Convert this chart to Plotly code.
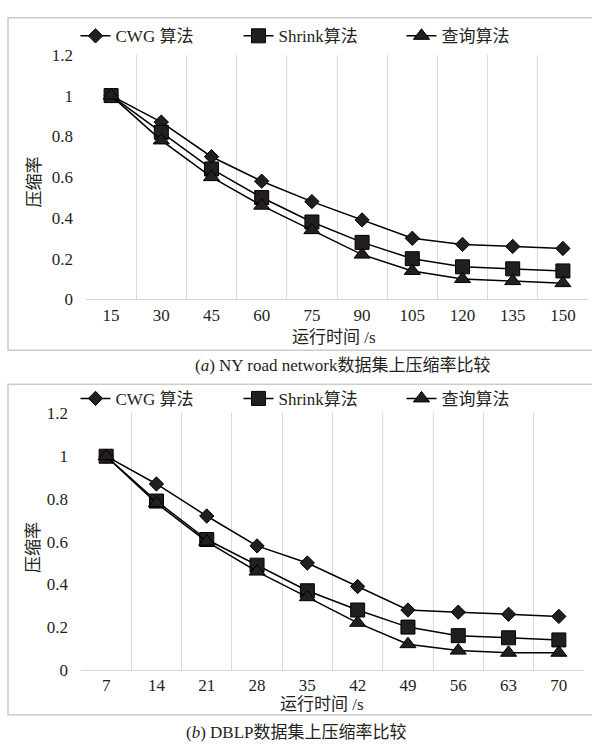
import plotly.graph_objects as go

# ---- data ----
time_ny = [15, 30, 45, 60, 75, 90, 105, 120, 135, 150]
cwg_ny = [1.0, 0.87, 0.70, 0.58, 0.48, 0.39, 0.30, 0.27, 0.26, 0.25]
shrink_ny = [1.0, 0.82, 0.64, 0.50, 0.38, 0.28, 0.20, 0.16, 0.15, 0.14]
query_ny = [1.0, 0.78, 0.60, 0.46, 0.34, 0.22, 0.14, 0.10, 0.09, 0.08]

time_dblp = [7, 14, 21, 28, 35, 42, 49, 56, 63, 70]
cwg_dblp = [1.0, 0.87, 0.72, 0.58, 0.50, 0.39, 0.28, 0.27, 0.26, 0.25]
shrink_dblp = [1.0, 0.79, 0.61, 0.49, 0.37, 0.28, 0.20, 0.16, 0.15, 0.14]
query_dblp = [1.0, 0.78, 0.60, 0.46, 0.34, 0.22, 0.12, 0.09, 0.08, 0.08]

series_names = ["CWG 算法", "Shrink算法", "查询算法"]
y_ticks = [0, 0.2, 0.4, 0.6, 0.8, 1, 1.2]
y_title = "压缩率"
x_title = "运行时间 /s"
caption_a = "(<i>a</i>) NY road network数据集上压缩率比较"
caption_b = "(<i>b</i>) DBLP数据集上压缩率比较"

W, H = 592, 750
FONT = "Liberation Serif, Noto Sans CJK SC, serif"
INK = "#231f20"
GRID = "#d9d9d9"
symbols = ["diamond", "square", "triangle-up"]
sizes = [11, 14, 14]


def px_x(v):
    return v / W


def px_y(v):
    return 1 - v / H


fig = go.Figure()

groups = [
    (time_ny, [cwg_ny, shrink_ny, query_ny], "x", "y", "legend"),
    (time_dblp, [cwg_dblp, shrink_dblp, query_dblp], "x2", "y2", "legend2"),
]
for xs, ys_list, xa, ya, lg in groups:
    for name, ys, sym, sz in zip(series_names, ys_list, symbols, sizes):
        fig.add_trace(go.Scatter(
            x=[str(v) for v in xs], y=ys, name=name, mode="lines+markers",
            xaxis=xa, yaxis=ya, legend=lg,
            line=dict(color="black", width=1.5),
            marker=dict(symbol=sym, size=sz, color=INK,
                        line=dict(color="black", width=1)),
        ))

xaxis_common = dict(
    type="category", tickson="boundaries", showgrid=True, gridcolor=GRID,
    gridwidth=1, showline=True, linecolor=GRID, linewidth=1, ticks="",
    range=[-0.5, 9.5], tickfont=dict(size=17, color=INK, family=FONT),
    ticklabelstandoff=0, fixedrange=True,
)
yaxis_common = dict(
    range=[0, 1.2], tickvals=y_ticks, showgrid=False, zeroline=False,
    showline=False, ticks="", tickfont=dict(size=17, color=INK, family=FONT),
    ticklabelstandoff=12, fixedrange=True,
)

legend_common = dict(
    orientation="h", x=px_x(320), xanchor="center", yanchor="middle",
    bgcolor="rgba(0,0,0,0)", font=dict(size=17, color=INK, family=FONT),
    itemwidth=30, entrywidth=118, tracegroupgap=0,
)

fig.update_layout(
    width=W, height=H,
    margin=dict(l=0, r=0, t=0, b=0),
    paper_bgcolor="white", plot_bgcolor="white",
    font=dict(family=FONT, size=17, color=INK),
    xaxis=dict(domain=[px_x(86), px_x(588)], anchor="y", **xaxis_common),
    yaxis=dict(domain=[px_y(298), px_y(47)], anchor="x", **yaxis_common),
    xaxis2=dict(domain=[px_x(81), px_x(584)], anchor="y2", **xaxis_common),
    yaxis2=dict(domain=[px_y(678), px_y(415)], anchor="x2", **yaxis_common),
    legend=dict(y=px_y(28), **legend_common),
    legend2=dict(y=px_y(400), **legend_common),
    showlegend=True,
)

# panel frames
for top, bottom in [(9, 350), (385, 724)]:
    fig.add_shape(type="rect", xref="paper", yref="paper",
                  x0=px_x(8), x1=1.02, y0=px_y(bottom), y1=px_y(top),
                  line=dict(color="#cccccc", width=1.5), layer="below")

annotations = [
    # y-axis titles
    dict(text=y_title, x=px_x(34), y=px_y(178), textangle=-90),
    dict(text=y_title, x=px_x(34), y=px_y(553), textangle=-90),
    # x-axis titles
    dict(text=x_title, x=px_x(334), y=px_y(337)),
    dict(text=x_title, x=px_x(322), y=px_y(714)),
    # captions
    dict(text=caption_a, x=px_x(342), y=px_y(366)),
    dict(text=caption_b, x=px_x(296), y=px_y(742)),
]
for a in annotations:
    fig.add_annotation(xref="paper", yref="paper", showarrow=False,
                       xanchor="center", yanchor="middle",
                       font=dict(size=17, color=INK, family=FONT), **a)

fig.write_html("out.html")
